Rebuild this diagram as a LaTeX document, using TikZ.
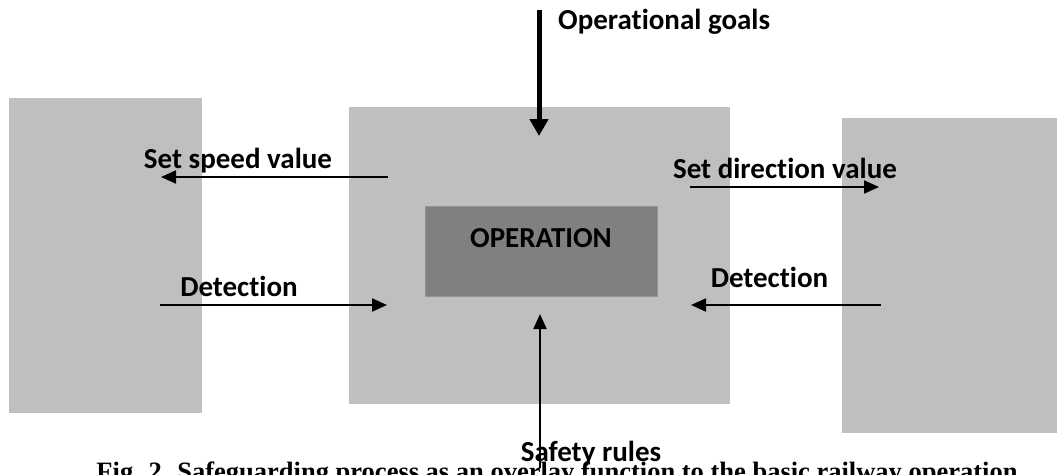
\documentclass[tikz,border=0pt]{standalone}
\usepackage{fontspec}
\setmainfont{Liberation Serif}
\newfontfamily\lblfont{Carlito}[Ligatures=NoCommon]
\usetikzlibrary{arrows.meta}
\definecolor{lightbox}{HTML}{BFBFBF}
\definecolor{darkbox}{HTML}{808080}
\tikzset{
  bigbox/.style={fill=lightbox, draw=none, inner sep=0pt, minimum width=#1},
  innerbox/.style={fill=darkbox, draw=darkbox!85!white, line width=0.8pt, inner sep=0pt},
  lbl/.style={font=\lblfont\bfseries\fontsize{29}{32}\selectfont, inner sep=0pt},
  thinarrow/.style={line width=2pt, -{Triangle[length=15pt,width=13pt]}},
  thickarrow/.style={line width=5pt, -{Triangle[length=17pt,width=18pt]}},
}
\begin{document}
\begin{tikzpicture}[x=1pt,y=-1pt]
\useasboundingbox (0,0) rectangle (1057,474);
% boxes
\node[bigbox=193pt, minimum height=315pt] (leftbox) at (105.5,255.5) {};
\node[bigbox=381pt, minimum height=297pt] (centerbox) at (539.5,255.5) {};
\node[bigbox=215pt, minimum height=315pt] (rightbox) at (949.5,275.5) {};
\node[innerbox, minimum width=232pt, minimum height=90pt] (op) at (541,251) {};
\node[lbl] (optext) at (541,238) {OPERATION};
% labels
\node[lbl, anchor=west] (goals) at (558,22) {Operational goals};
\node[lbl] (speed) at (238,161) {Set speed value};
\node[lbl] (direction) at (785,168) {Set direction value};
\node[lbl] (detL) at (239,286) {Detection};
\node[lbl] (detR) at (769.5,277) {Detection};
\node[lbl] (safety) at (591,454) {Safety rules};
\node[font=\bfseries\fontsize{26.5}{28}\selectfont, anchor=base, inner sep=0pt] (caption) at (557,480) {Fig. 2. Safeguarding process as an overlay function to the basic railway operation};
% arrow endpoints
\coordinate (g1) at (539,10);
\coordinate (g2) at (539,136);
\coordinate (s1) at (388,177);
\coordinate (s2) at (161,177);
\coordinate (d1) at (690,187);
\coordinate (d2) at (879,187);
\coordinate (l1) at (160,305);
\coordinate (l2) at (387,305);
\coordinate (r1) at (881,305);
\coordinate (r2) at (691,305);
\coordinate (f1) at (540,468);
\coordinate (f2) at (540,314);
% arrows
\draw[thickarrow] (g1) -- (g2);
\draw[thinarrow] (s1) -- (s2);
\draw[thinarrow] (d1) -- (d2);
\draw[thinarrow] (l1) -- (l2);
\draw[thinarrow] (r1) -- (r2);
\draw[thinarrow] (f1) -- (f2);
\end{tikzpicture}
\end{document}
